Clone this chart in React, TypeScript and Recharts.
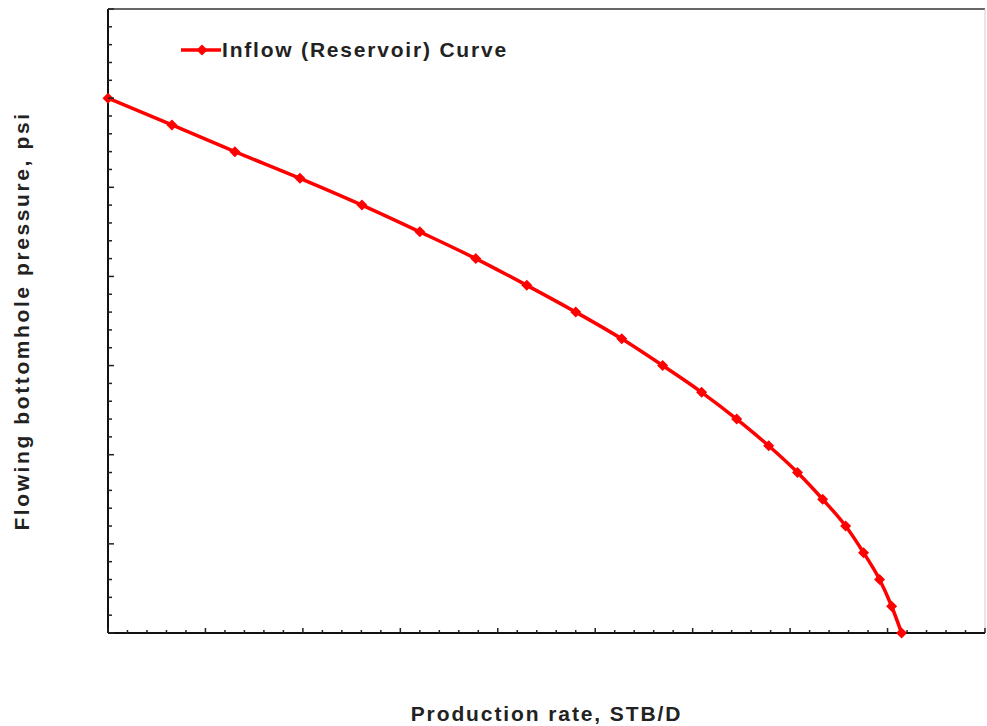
import React from "react";
import { LineChart, Line, XAxis, YAxis, ReferenceLine } from "recharts";

// Inflow (reservoir) curve
const rates = [
  0, 328, 651, 985, 1303, 1600, 1887, 2149, 2400, 2636, 2846, 3046, 3226, 3390,
  3538, 3667, 3785, 3877, 3959, 4021, 4072,
];
const pressures = [
  3000, 2850, 2700, 2550, 2400, 2250, 2100, 1950, 1800, 1650, 1500, 1350, 1200,
  1050, 900, 750, 600, 450, 300, 150, 0,
];

const xTicks = Array.from({ length: 46 }, (_, i) => i * 100);
const yTicks = Array.from({ length: 36 }, (_, i) => i * 100);

const data = rates.map((q, i) => ({ q, p: pressures[i] }));

const FONT = "'Liberation Sans', Arial, sans-serif";
const RED = "#ff0000";

function XTick({ x, y, payload }: any) {
  const len = payload.value % 500 === 0 ? 5 : 3;
  return <line x1={x} y1={y} x2={x} y2={y - len} stroke="#222" strokeWidth={1.5} />;
}

function YTick({ x, y, payload }: any) {
  const len = payload.value % 500 === 0 ? 6 : 4;
  return <line x1={x} y1={y} x2={x + len} y2={y} stroke="#222" strokeWidth={1.5} />;
}

function Diamond({ cx, cy }: any) {
  if (cx == null || cy == null) return null;
  const r = 5.5;
  return (
    <polygon
      points={`${cx},${cy - r} ${cx + r},${cy} ${cx},${cy + r} ${cx - r},${cy}`}
      fill={RED}
    />
  );
}

function LegendBox() {
  return (
    <div
      style={{
        position: "absolute",
        left: 181,
        top: 38,
        display: "flex",
        alignItems: "center",
        fontFamily: FONT,
      }}
    >
      <svg width={40} height={14}>
        <line x1={0} y1={7} x2={40} y2={7} stroke={RED} strokeWidth={3.5} />
        <polygon points="21,1.5 26.5,7 21,12.5 15.5,7" fill={RED} />
      </svg>
      <span
        style={{
          fontSize: 21,
          fontWeight: 700,
          color: "#222",
          marginLeft: 1,
          letterSpacing: 1.8,
        }}
      >
        Inflow (Reservoir) Curve
      </span>
    </div>
  );
}

export default function App() {
  return (
    <div style={{ position: "absolute", left: 0, top: 0, background: "#fff" }}>
      <LineChart
        width={987}
        height={726}
        data={data}
        margin={{ top: 9, right: 2, left: 0, bottom: 0 }}
      >
        <XAxis
          dataKey="q"
          type="number"
          domain={[0, 4500]}
          ticks={xTicks}
          interval={0}
          height={93}
          tickSize={0}
          tickMargin={0}
          tickLine={false}
          tick={<XTick />}
          axisLine={{ stroke: "#111", strokeWidth: 2 }}
          label={{
            value: "Production rate, STB/D",
            position: "insideBottom",
            offset: 5,
            style: {
              fontFamily: FONT,
              fontSize: 21,
              fontWeight: 700,
              fill: "#222",
              letterSpacing: 1.9,
            },
          }}
        />
        <YAxis
          dataKey="p"
          type="number"
          domain={[0, 3500]}
          ticks={yTicks}
          interval={0}
          width={108}
          tickSize={0}
          tickMargin={0}
          tickLine={false}
          tick={<YTick />}
          axisLine={{ stroke: "#111", strokeWidth: 2 }}
          label={{
            value: "Flowing bottomhole pressure, psi",
            angle: -90,
            position: "insideLeft",
            offset: 22,
            style: {
              fontFamily: FONT,
              fontSize: 21,
              fontWeight: 700,
              fill: "#222",
              textAnchor: "middle",
              letterSpacing: 2.6,
            },
          }}
        />
        <ReferenceLine y={3500} stroke="#666" strokeWidth={2} />
        <ReferenceLine x={4500} stroke="#ccc" strokeWidth={1} />
        <Line
          type="monotone"
          dataKey="p"
          stroke={RED}
          strokeWidth={3.5}
          dot={<Diamond />}
          activeDot={false}
          isAnimationActive={false}
        />
      </LineChart>
      <LegendBox />
    </div>
  );
}
